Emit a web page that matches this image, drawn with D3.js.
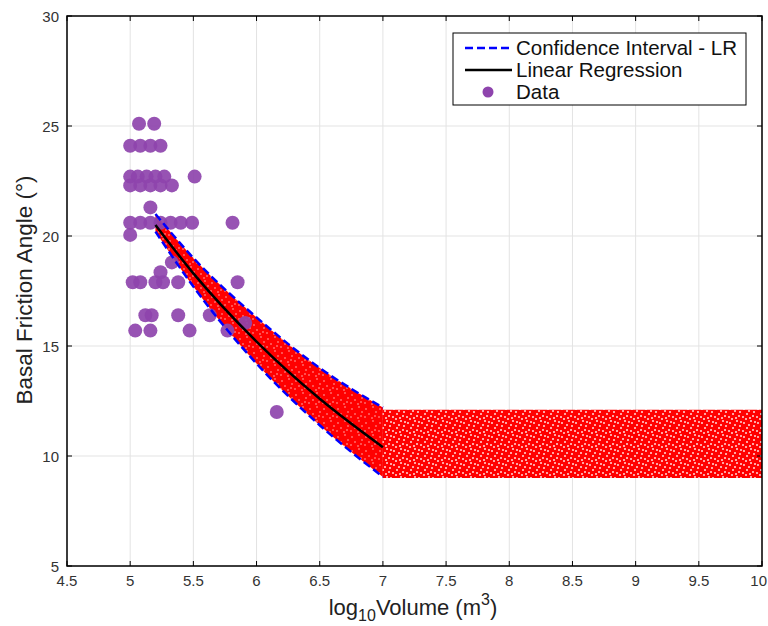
<!DOCTYPE html>
<html><head><meta charset="utf-8">
<script src="https://cdn.jsdelivr.net/npm/d3@7"></script>
<style>body{margin:0;background:#fff;} svg{display:block;font-family:"Liberation Sans",Arial,sans-serif;}</style>
</head><body>
<svg id="chart" width="768" height="626"></svg>
<script>
// ---- data ----
const xTicks = [4.5,5,5.5,6,6.5,7,7.5,8,8.5,9,9.5,10];
const xTickLabels = ["4.5","5","5.5","6","6.5","7","7.5","8","8.5","9","9.5","10"];
const yTicks = [5,10,15,20,25,30];
const yTickLabels = ["5","10","15","20","25","30"];

// confidence interval and regression curve (sloped part)
const fitX     = [5.2, 5.5, 6.0, 6.5, 7.0];
const ciUpper  = [21.0, 19.0, 16.3, 14.0, 12.2];
const lrY      = [20.5, 18.3, 15.2, 12.6, 10.4];
const ciLower  = [20.2, 17.7, 14.2, 11.4, 9.05];

// simulated-cloud band beyond 7
const flatX    = [7.0, 10.0];
const flatHigh = [12.1, 12.1];
const flatLow  = [9.0, 9.0];

// observed data
const dataX = [5.07,5.19, 5.0,5.08,5.16,5.24, 5.0,5.06,5.13,5.2,5.27,5.51,
               5.0,5.08,5.16,5.24,5.33, 5.16,
               5.0,5.08,5.16,5.24,5.32,5.4,5.49,5.81, 5.0,
               5.33,5.24, 5.02,5.08,5.2,5.26,5.38,5.85,
               5.12,5.17,5.38,5.63, 5.04,5.16,5.47,5.77, 5.91, 6.16];
const dataY = [25.1,25.1, 24.1,24.1,24.1,24.1, 22.7,22.7,22.7,22.7,22.7,22.7,
               22.3,22.3,22.3,22.3,22.3, 21.3,
               20.6,20.6,20.6,20.6,20.6,20.6,20.6,20.6, 20.05,
               18.8,18.35, 17.9,17.9,17.9,17.9,17.9,17.9,
               16.4,16.4,16.4,16.4, 15.7,15.7,15.7,15.7, 16.05, 12.0];

const legendLabels = ["Confidence Interval - LR","Linear Regression","Data"];

// ---- layout ----
const L=67, R=762, T=16, B=566;
const svg = d3.select("#chart");
const x = d3.scaleLinear().domain([4.5,10]).range([L,R]);
const y = d3.scaleLinear().domain([5,30]).range([B,T]);

// patterns for the red simulated cloud
const defs = svg.append("defs");
function makePattern(id, specks, r){
  const p = defs.append("pattern").attr("id",id).attr("patternUnits","userSpaceOnUse")
    .attr("width",14).attr("height",14);
  p.append("rect").attr("width",14).attr("height",14).attr("fill","#ff0000");
  specks.forEach(s=>p.append("circle").attr("cx",s[0]).attr("cy",s[1]).attr("r",r).attr("fill","#fff").attr("opacity",0.85));
}
makePattern("dense", [[2,3],[9,1],[5,8],[12,6],[1,11],[8,12],[11,10]], 0.7);
makePattern("sparse", [[2,3],[9,1],[5,8],[12,6],[1,11],[8,12],[11,10],[4,13],[13,2],[7,5]], 1.0);

// grid
const g = svg.append("g");
g.selectAll(".gx").data(xTicks).join("line")
  .attr("x1",d=>x(d)).attr("x2",d=>x(d)).attr("y1",T).attr("y2",B)
  .attr("stroke","#e3e3e3").attr("stroke-width",1);
g.selectAll(".gy").data(yTicks).join("line")
  .attr("y1",d=>y(d)).attr("y2",d=>y(d)).attr("x1",L).attr("x2",R)
  .attr("stroke","#e3e3e3").attr("stroke-width",1);

// red cloud
const slope = fitX.map((v,i)=>({x:v,lo:ciLower[i],hi:ciUpper[i]}));
const flat = flatX.map((v,i)=>({x:v,lo:flatLow[i],hi:flatHigh[i]}));
const area = d3.area().x(d=>x(d.x)).y0(d=>y(d.lo)).y1(d=>y(d.hi)).curve(d3.curveMonotoneX);
svg.append("path").datum(slope).attr("d",area).attr("fill","url(#dense)");
svg.append("path").datum(flat).attr("d",d3.area().x(d=>x(d.x)).y0(d=>y(d.lo)).y1(d=>y(d.hi)))
  .attr("fill","url(#sparse)");

// data points
svg.selectAll(".pt").data(dataX.map((v,i)=>[v,dataY[i]])).join("circle")
  .attr("cx",d=>x(d[0])).attr("cy",d=>y(d[1])).attr("r",7)
  .attr("fill","#8e44ad").attr("fill-opacity",0.92);

// CI lines
const line = d3.line().x(d=>x(d[0])).y(d=>y(d[1])).curve(d3.curveMonotoneX);
[ciUpper, ciLower].forEach(arr=>{
  svg.append("path").datum(fitX.map((v,i)=>[v,arr[i]])).attr("d",line)
    .attr("fill","none").attr("stroke","#0000ff").attr("stroke-width",2.5).attr("stroke-dasharray","8,4");
});
// regression line
svg.append("path").datum(fitX.map((v,i)=>[v,lrY[i]])).attr("d",line)
  .attr("fill","none").attr("stroke","#000").attr("stroke-width",2.5);

// axes box and ticks
const ax = svg.append("g");
ax.append("rect").attr("x",L).attr("y",T).attr("width",R-L).attr("height",B-T)
  .attr("fill","none").attr("stroke","#000").attr("stroke-width",1.5);
const tl=5;
xTicks.forEach(t=>{
  ax.append("line").attr("x1",x(t)).attr("x2",x(t)).attr("y1",B).attr("y2",B-tl).attr("stroke","#000");
  ax.append("line").attr("x1",x(t)).attr("x2",x(t)).attr("y1",T).attr("y2",T+tl).attr("stroke","#000");
});
yTicks.forEach(t=>{
  ax.append("line").attr("y1",y(t)).attr("y2",y(t)).attr("x1",L).attr("x2",L+tl).attr("stroke","#000");
  ax.append("line").attr("y1",y(t)).attr("y2",y(t)).attr("x1",R).attr("x2",R-tl).attr("stroke","#000");
});
const lastIdx = xTicks.length-1;
ax.selectAll(".xl").data(xTicks).join("text")
  .attr("x",(d,i)=>i===lastIdx ? 767 : x(d)).attr("y",B+20)
  .attr("text-anchor",(d,i)=>i===lastIdx ? "end" : "middle")
  .attr("font-size",15).attr("fill","#333").text((d,i)=>xTickLabels[i]);
ax.selectAll(".yl").data(yTicks).join("text")
  .attr("x",L-8).attr("y",d=>y(d)+5.5).attr("text-anchor","end")
  .attr("font-size",15).attr("fill","#333").text((d,i)=>yTickLabels[i]);

// axis titles
const xt = svg.append("text").attr("x",413).attr("y",615).attr("text-anchor","middle")
  .attr("font-size",22).attr("fill","#222");
xt.append("tspan").text("log");
xt.append("tspan").attr("font-size",16).attr("dy",6).text("10");
xt.append("tspan").attr("dy",-6).text("Volume (m");
xt.append("tspan").attr("font-size",16).attr("dy",-10).text("3");
xt.append("tspan").attr("dy",10).text(")");
svg.append("text").attr("transform","translate(32,290) rotate(-90)").attr("text-anchor","middle")
  .attr("font-size",22.5).attr("fill","#222").text("Basal Friction Angle (°)");

// legend
const lg = svg.append("g");
lg.append("rect").attr("x",453).attr("y",33).attr("width",293).attr("height",72)
  .attr("fill","#fff").attr("stroke","#000").attr("stroke-width",1);
const rows=[48,70,92];
lg.append("line").attr("x1",465).attr("x2",512).attr("y1",rows[0]).attr("y2",rows[0])
  .attr("stroke","#0000ff").attr("stroke-width",2.5).attr("stroke-dasharray","8,4");
lg.append("line").attr("x1",465).attr("x2",512).attr("y1",rows[1]).attr("y2",rows[1])
  .attr("stroke","#000").attr("stroke-width",2.5);
lg.append("circle").attr("cx",488).attr("cy",rows[2]).attr("r",5.5).attr("fill","#8e44ad");
legendLabels.forEach((t,i)=>{
  lg.append("text").attr("x",516).attr("y",rows[i]+7).attr("font-size",20.5).attr("fill","#111").text(t);
});
</script>
</body></html>
